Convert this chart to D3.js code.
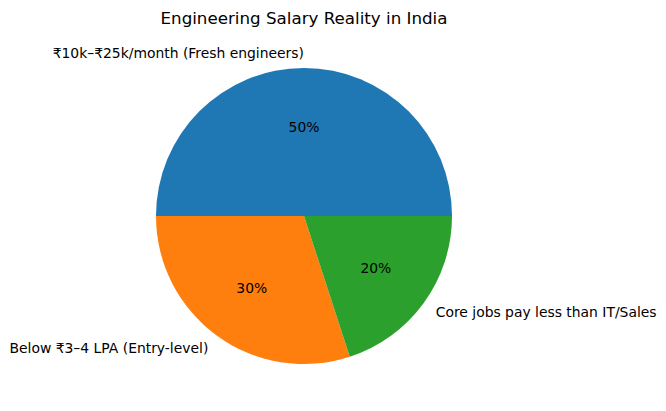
<!DOCTYPE html>
<html>
<head>
    <meta charset="utf-8">
    <script src="https://d3js.org/d3.v7.min.js"></script>
    <style>
        body { margin: 0; background: white; }
        text { font-family: "DejaVu Sans", sans-serif; fill: black; }
    </style>
</head>
<body>
    <svg id="svg" width="666" height="411"></svg>
    <script>
        const labels = ["₹10k–₹25k/month (Fresh engineers)", "Below ₹3–4 LPA (Entry-level)", "Core jobs pay less than IT/Sales"];
        const values = [50, 30, 20];
        const colors = ["#1f77b4", "#ff7f0e", "#2ca02c"];
        const title = "Engineering Salary Reality in India";

        var svg = d3.select("#svg"),
            cx = 304,
            cy = 216,
            r = 148;

        svg.append("rect").attr("width", 666).attr("height", 411).attr("fill", "white");

        // matplotlib style: start at 3 o'clock, go counter-clockwise
        const pie = d3.pie().sort(null).startAngle(Math.PI / 2).endAngle(Math.PI / 2 - 2 * Math.PI);
        const arcs = pie(values);

        const arcgen = d3.arc().innerRadius(0).outerRadius(r),
            pctArc = d3.arc().innerRadius(r * 0.6).outerRadius(r * 0.6),
            labArc = d3.arc().innerRadius(r * 1.1).outerRadius(r * 1.1);

        var g = svg.append("g").attr("transform", "translate(" + cx + "," + cy + ")");

        g.selectAll("path.slice").data(arcs).enter().append("path")
            .attr("class", "slice")
            .attr("d", arcgen)
            .attr("fill", (d, i) => colors[i]);

        const total = d3.sum(values);
        g.selectAll("text.pct").data(arcs).enter().append("text")
            .attr("class", "pct")
            .attr("transform", d => "translate(" + pctArc.centroid(d) + ")")
            .attr("text-anchor", "middle")
            .attr("dy", "0.35em")
            .attr("font-size", "13.9px")
            .text(d => Math.round(d.value / total * 100) + "%");

        g.selectAll("text.lab").data(arcs).enter().append("text")
            .attr("class", "lab")
            .attr("transform", d => "translate(" + labArc.centroid(d) + ")")
            .attr("text-anchor", d => labArc.centroid(d)[0] > 1e-6 ? "start" : "end")
            .attr("dy", "0.35em")
            .attr("font-size", "13.9px")
            .text((d, i) => labels[i]);

        svg.append("text")
            .attr("x", cx)
            .attr("y", 24)
            .attr("text-anchor", "middle")
            .attr("font-size", "16.7px")
            .text(title);
    </script>
</body>
</html>
